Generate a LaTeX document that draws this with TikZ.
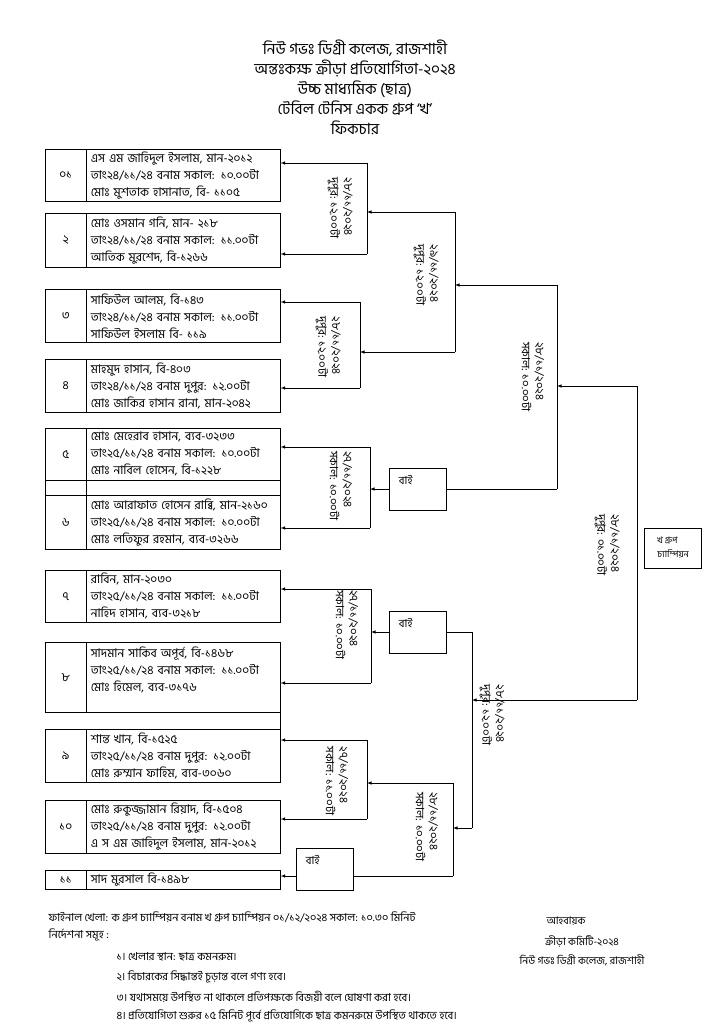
\documentclass[tikz,border=0pt]{standalone}
\usepackage{fontspec}
\setmainfont[Script=Bengali]{Hind Siliguri}

\begin{document}
\begin{tikzpicture}[
				x=1pt, y=-1pt,
				line width=0.6pt,
				numcell/.style={draw, anchor=north west, minimum width=41pt, inner sep=0pt, font=\fontsize{12}{14}\selectfont},
				namecell/.style={draw, anchor=north west, text width=185pt, inner xsep=4.5pt, inner ysep=0pt, align=left, font=\fontsize{12}{17}\selectfont},
				byebox/.style={draw, minimum width=57pt, minimum height=42pt},
				byetext/.style={anchor=north west, xshift=6pt, yshift=-4pt, font=\fontsize{11}{13}\selectfont},
				datelabel/.style={rotate=-90, align=left, inner sep=0pt, font=\fontsize{11.5}{14}\selectfont},
				notetext/.style={font=\fontsize{11}{13}\selectfont},
				signtext/.style={font=\fontsize{10.5}{13}\selectfont},
				>=latex]
				
				\useasboundingbox (0,0) rectangle (724,1024);
				
				% Heading
				\node[align=center, font=\fontsize{15.5}{20}\selectfont] (head) at (355,87)
					{নিউ গভঃ ডিগ্রী কলেজ, রাজশাহী\\অন্তঃকক্ষ ক্রীড়া প্রতিযোগিতা-২০২৪\\উচ্চ মাধ্যমিক (ছাত্র)\\টেবিল টেনিস একক গ্রুপ ‘খ’\\ফিকচার};
				
				% Players
				\node[numcell, minimum height=52pt] (n1) at (45,149) {০১};
				\node[namecell, minimum height=52pt] (e1) at (86,149)
					{এস এম জাহিদুল  ইসলাম, মান-২০১২\\তাং২৪/১১/২৪  বনাম সকাল: ১০.০০টা\\মোঃ মুশতাক  হাসানাত, বি- ১১০৫};
				\node[numcell, minimum height=54pt] (n2) at (45,213) {২};
				\node[namecell, minimum height=54pt] (e2) at (86,213)
					{মোঃ ওসমান গনি, মান- ২১৮\\তাং২৪/১১/২৪  বনাম সকাল: ১১.০০টা\\আতিক মুরশেদ, বি-১২৬৬};
				\node[numcell, minimum height=53pt] (n3) at (45,289) {৩};
				\node[namecell, minimum height=53pt] (e3) at (86,289)
					{সাফিউল আলম, বি-১৪৩\\তাং২৪/১১/২৪  বনাম সকাল: ১১.০০টা\\সাফিউল ইসলাম বি- ১১৯};
				\node[numcell, minimum height=53pt] (n4) at (45,359) {৪};
				\node[namecell, minimum height=53pt] (e4) at (86,359)
					{মাহমুদ হাসান, বি-৪০৩\\তাং২৪/১১/২৪  বনাম  দুপুর: ১২.০০টা\\মোঃ জাকির হাসান রানা, মান-২০৪২};
				\node[numcell, minimum height=52pt] (n5) at (45,428) {৫};
				\node[namecell, minimum height=52pt] (e5) at (86,428)
					{মোঃ মেহেরাব হাসান, ব্যব-৩২৩৩\\তাং২৫/১১/২৪  বনাম সকাল: ১০.০০টা\\মোঃ নাবিল  হোসেন, বি-১২২৮};
				\node[numcell, minimum height=15pt] (n5x) at (45,480) {};
				\node[namecell, minimum height=15pt] (e5x) at (86,480) {};
				\node[numcell, minimum height=54pt] (n6) at (45,495) {৬};
				\node[namecell, minimum height=54pt] (e6) at (86,495)
					{মোঃ আরাফাত হোসেন রাব্বি, মান-২১৬০\\তাং২৫/১১/২৪  বনাম  সকাল: ১০.০০টা\\মোঃ লতিফুর রহমান, ব্যব-৩২৬৬};
				\node[numcell, minimum height=52pt] (n7) at (45,570) {৭};
				\node[namecell, minimum height=52pt] (e7) at (86,570)
					{রাবিন, মান-২০৩০\\তাং২৫/১১/২৪  বনাম  সকাল: ১১.০০টা\\নাহিদ হাসান, ব্যব-৩২১৮};
				\node[numcell, minimum height=70pt] (n8) at (45,642) {৮};
				\node[namecell, minimum height=70pt] (e8) at (86,642)
					{সাদমান সাকিব অপূর্ব, বি-১৪৬৮\\তাং২৫/১১/২৪  বনাম  সকাল: ১১.০০টা\\মোঃ হিমেল, ব্যব-৩১৭৬\\\mbox{}};
				\node[numcell, minimum height=53pt] (n9) at (45,729) {৯};
				\node[namecell, minimum height=53pt] (e9) at (86,729)
					{শান্ত খান, বি-১৫২৫\\তাং২৫/১১/২৪  বনাম  দুপুর: ১২.০০টা\\মোঃ রুম্মান ফাহিম, ব্যব-৩০৬০};
				\node[numcell, minimum height=53pt] (n10) at (45,800) {১০};
				\node[namecell, minimum height=53pt] (e10) at (86,800)
					{মোঃ রুকুজ্জামান রিয়াদ, বি-১৫০৪\\তাং২৫/১১/২৪  বনাম দুপুর: ১২.০০টা\\এ স এম জাহিদুল ইসলাম, মান-২০১২};
				\node[numcell, minimum height=19pt] (n11) at (45,870) {১১};
				\node[namecell, minimum height=19pt] (e11) at (86,870) {সাদ মুরসাল বি-১৪৯৮};
				\draw (e8.south east) -- (e9.north east);
				
				% Byes and champion
				\node[byebox, label={[byetext]north west:বাই}] (bye1) at (418,489) {};
				\node[byebox, label={[byetext]north west:বাই}] (bye2) at (418,632) {};
				\node[byebox, label={[byetext]north west:বাই}] (bye3) at (325,869) {};
				\node[draw, minimum width=57pt, minimum height=40pt, align=left, font=\fontsize{9}{14}\selectfont] (champ) at (673,548)
					{খ গ্রুপ\\চ্যাম্পিয়ন};
				
				% Bracket corners
				\coordinate (b1t) at (367,163); \coordinate (b1b) at (367,254);
				\coordinate (b2t) at (360,302); \coordinate (b2b) at (360,388);
				\coordinate (b3t) at (455,212); \coordinate (b3b) at (455,352);
				\coordinate (b4t) at (370,447); \coordinate (b4b) at (370,528);
				\coordinate (b5t) at (557,285); \coordinate (b5b) at (557,489);
				\coordinate (b6t) at (371,589); \coordinate (b6b) at (371,683);
				\coordinate (b7t) at (472,632); \coordinate (b7b) at (472,828);
				\coordinate (b8t) at (367,740); \coordinate (b8b) at (367,819);
				\coordinate (b9t) at (453,783); \coordinate (b9b) at (453,876);
				\coordinate (b10t) at (637,386); \coordinate (b10b) at (637,700);
				
				% First round
				\draw (b1t) -- (b1b);
				\draw[->] (b1t) -- (b1t -| e1.east);
				\draw[->] (b1b) -- (b1b -| e2.east);
				\draw (b2t) -- (b2b);
				\draw[->] (b2t) -- (b2t -| e3.east);
				\draw[->] (b2b) -- (b2b -| e4.east);
				\draw (b4t) -- (b4b);
				\draw[->] (b4t) -- (b4t -| e5.east);
				\draw[->] (b4b) -- (b4b -| e6.east);
				\draw (b6t) -- (b6b);
				\draw[->] (b6t) -- (b6t -| e7.east);
				\draw[->] (b6b) -- (b6b -| e8.east);
				\draw (b8t) -- (b8b);
				\draw[->] (b8t) -- (b8t -| e9.east);
				\draw[->] (b8b) -- (b8b -| e10.east);
				
				% Byes
				\draw[->] (bye1.west) -- (bye1.west -| b4t);
				\draw (bye1.east) -- (b5b);
				\draw[->] (bye2.west) -- (bye2.west -| b6t);
				\draw (bye2.east) -- (b7t);
				\draw (b9b) -- (b9b -| bye3.east);
				\draw[->] (b9b -| bye3.west) -- (b9b -| e11.east);
				
				% Later rounds
				\draw (b3t) -- (b3b);
				\draw[->] (b3t) -- (b3t -| b1t);
				\draw[->] (b3b) -- (b3b -| b2t);
				\draw (b5t) -- (b5b);
				\draw[->] (b5t) -- (b5t -| b3t);
				\draw (b9t) -- (b9b);
				\draw[->] (b9t) -- (b9t -| b8t);
				\draw (b7t) -- (b7b);
				\draw[->] (b7b) -- (b7b -| b9t);
				\draw (b10t) -- (b10b);
				\draw[->] (b10t) -- (b10t -| b5t);
				\draw[->] (b10b) -- (b10b -| b7t);
				
				% Match dates
				\node[datelabel] (d1) at (340,208) {২৮/১১/২০২৪\\দুপুর: ১২.০০টা};
				\node[datelabel] (d2) at (328,347) {২৮/১১/২০২৪\\দুপুর: ১২.০০টা};
				\node[datelabel] (d3) at (426,275) {২৯/১১/২০২৪\\দুপুর: ১২.০০টা};
				\node[datelabel] (d4) at (341,486) {২৭/১১/২০২৪\\সকাল: ১০.০০টা};
				\node[datelabel] (d5) at (533,377) {২৮/১১/২০২৪\\সকাল: ১০.০০টা};
				\node[datelabel] (d6) at (347,625) {২৭/১১/২০২৪\\সকাল: ১০.০০টা};
				\node[datelabel] (d7) at (492,715) {২৮/১১/২০২৪\\দুপুর: ১২.০০টা};
				\node[datelabel] (d8) at (337,781) {২৭/১১/২০২৪\\সকাল: ১১.০০টা};
				\node[datelabel] (d9) at (427,827) {২৮/১১/২০২৪\\সকাল: ১০.০০টা};
				\node[datelabel] (d10) at (607,545) {২৮/১১/২০২৪\\দুপুর: ০১.০০টা};
				
				% Notes
				\node[notetext, anchor=west] (final) at (45,917)
					{ফাইনাল খেলা: ক গ্রুপ চ্যাম্পিয়ন বনাম খ গ্রুপ চ্যাম্পিয়ন ০১/১২/২০২৪ সকাল: ১০.৩০ মিনিট};
				\node[notetext, anchor=west] (notes) at (45,935) {নির্দেশনা সমূহ :};
				\node[notetext, anchor=west] (rule1) at (113,957) {১। খেলার স্থান: ছাত্র কমনরুম।};
				\node[notetext, anchor=west] (rule2) at (113,977) {২। বিচারকের সিদ্ধান্তই চূড়ান্ত বলে গণ্য হবে।};
				\node[notetext, anchor=west] (rule3) at (113,997) {৩। যথাসময়ে উপস্থিত না থাকলে প্রতিপক্ষকে বিজয়ী বলে ঘোষণা করা হবে।};
				\node[notetext, anchor=west] (rule4) at (113,1016) {৪। প্রতিযোগিতা শুরুর ১৫ মিনিট পূর্বে প্রতিযোগিকে ছাত্র কমনরুমে উপস্থিত থাকতে হবে।};
				\node[signtext] (convener) at (566,921) {আহবায়ক};
				\node[signtext] (committee) at (582,941) {ক্রীড়া কমিটি-২০২৪};
				\node[signtext] (college) at (582,960) {নিউ গভঃ ডিগ্রী কলেজ, রাজশাহী};
			\end{tikzpicture}
\end{document}
